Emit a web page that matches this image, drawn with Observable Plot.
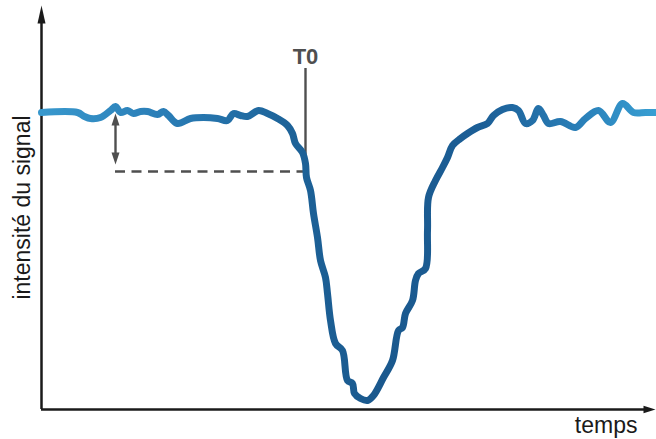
<!DOCTYPE html>
<html><head><meta charset="utf-8">
<script src="https://cdn.jsdelivr.net/npm/d3@7"></script>
<script src="https://cdn.jsdelivr.net/npm/@observablehq/plot@0.6"></script>
<style>html,body{margin:0;padding:0;background:#fff}</style>
</head><body><div id="chart"></div>
<script>
// Signal (time, intensity)
const time = [0,36,43,49,59,69,74,79,86,92,99,106,116,122,127,136,149,162,176,186,192,199,206,217,226,236,246,251,254,261,264,265,269,272,276,279,284,286,289,294,301,306,311,313,319,326,332,342,351,357,361,364,371,374,377,384,386,387,394,401,406,411,419,426,436,446,452,461,471,477,484,491,497,502,507,519,534,544,557,569,581,592,604,615];
const intensity = [297,297,293,291,292,299,303,297,299,296,298,298,295,298,294,286,291,292,291,289,296,294,293,299,296,291,284,276,266,257,246,232,219,196,172,149,132,116,89,66,59,29,26,16,11,9,14,32,49,79,82,96,109,129,136,141,179,212,229,242,252,264,271,276,282,286,294,300,302,299,286,289,301,294,286,288,282,291,299,287,306,297,297,297];

// Annotations
const t0Time = [264];
const t0Span = [237, 341];
const dropLevel = [238];
const refTime = [74];
const refSpan = [245, 296];
const xDomain = [0, 615];
const yDomain = [0, 409];
const axisEnds = {x: 614, y: 404};
const labelT0 = ["T0"];
const labelX = ["temps"];
const labelY = ["intensité du signal"];

const signal = time.map((t, i) => ({t, v: intensity[i]}));

function head(len, half) {
  return {draw(ctx) { ctx.moveTo(0, 0); ctx.lineTo(-half, len); ctx.lineTo(half, len); ctx.closePath(); }};
}

const gradient = () => {
  const defs = d3.create("svg:defs");
  const g = defs.append("linearGradient").attr("id", "sigGrad").attr("x1", 0).attr("x2", 1).attr("y1", 0).attr("y2", 0);
  [[0,"#3898cd"],[0.2,"#2a7db6"],[0.4,"#1d6399"],[0.55,"#1a588d"],[0.72,"#1c5f97"],[0.88,"#2a80b9"],[1,"#389fd3"]]
    .forEach(([o,c]) => g.append("stop").attr("offset", o).attr("stop-color", c));
  return defs.node();
};

const gray = "#4f4f4f";
const ink = "#1a1a1a";

const chart = Plot.plot({
  width: 656, height: 439,
  marginLeft: 41, marginRight: 0, marginTop: 0, marginBottom: 30,
  x: {domain: xDomain, axis: null},
  y: {domain: yDomain, axis: null},
  style: {fontFamily: "'Liberation Sans', Arial, sans-serif", background: "#fff", overflow: "visible"},
  marks: [
    gradient,
    // axes
    Plot.ruleX([xDomain[0]], {y1: yDomain[0], y2: axisEnds.y - 12, stroke: ink, strokeWidth: 2.5}),
    Plot.ruleY([yDomain[0]], {x1: xDomain[0], x2: axisEnds.x - 8, stroke: ink, strokeWidth: 2.5}),
    Plot.dot([{x: xDomain[0], y: axisEnds.y}], {x: "x", y: "y", symbol: head(18, 4), fill: ink, stroke: "none", r: 4}),
    Plot.dot([{x: axisEnds.x, y: yDomain[0]}], {x: "x", y: "y", symbol: head(12, 3.8), rotate: 90, fill: ink, stroke: "none", r: 4}),
    // annotations
    Plot.ruleY(dropLevel, {x1: refTime[0], x2: t0Time[0], stroke: gray, strokeWidth: 2.5, strokeDasharray: "10,6.5"}),
    Plot.ruleX(t0Time, {y1: t0Span[0], y2: t0Span[1], stroke: gray, strokeWidth: 2.4}),
    Plot.ruleX(refTime, {y1: refSpan[0] + 6, y2: refSpan[1] - 6, stroke: gray, strokeWidth: 2.4}),
    Plot.dot([{x: refTime[0], y: refSpan[1]}], {x: "x", y: "y", symbol: head(12, 4), fill: gray, stroke: "none", r: 4}),
    Plot.dot([{x: refTime[0], y: refSpan[0]}], {x: "x", y: "y", symbol: head(12, 4), rotate: 180, fill: gray, stroke: "none", r: 4}),
    // signal
    Plot.line(signal, {x: "t", y: "v", stroke: "url(#sigGrad)", strokeWidth: 7, curve: "catmull-rom", strokeLinejoin: "round", strokeLinecap: "round"}),
    // texts
    Plot.text(labelT0, {x: t0Time[0], y: t0Span[1] + 5, text: d => d, fontSize: 22, fontWeight: "bold", fill: gray, lineAnchor: "bottom"}),
    Plot.text(labelX, {x: 596, y: -23, text: d => d, fontSize: 23, fill: ink, textAnchor: "end", lineAnchor: "bottom"}),
    Plot.text(labelY, {x: -19, y: 202, text: d => d, fontSize: 23, fill: ink, rotate: -90})
  ]
});
document.getElementById("chart").append(chart);
</script>
</body></html>
